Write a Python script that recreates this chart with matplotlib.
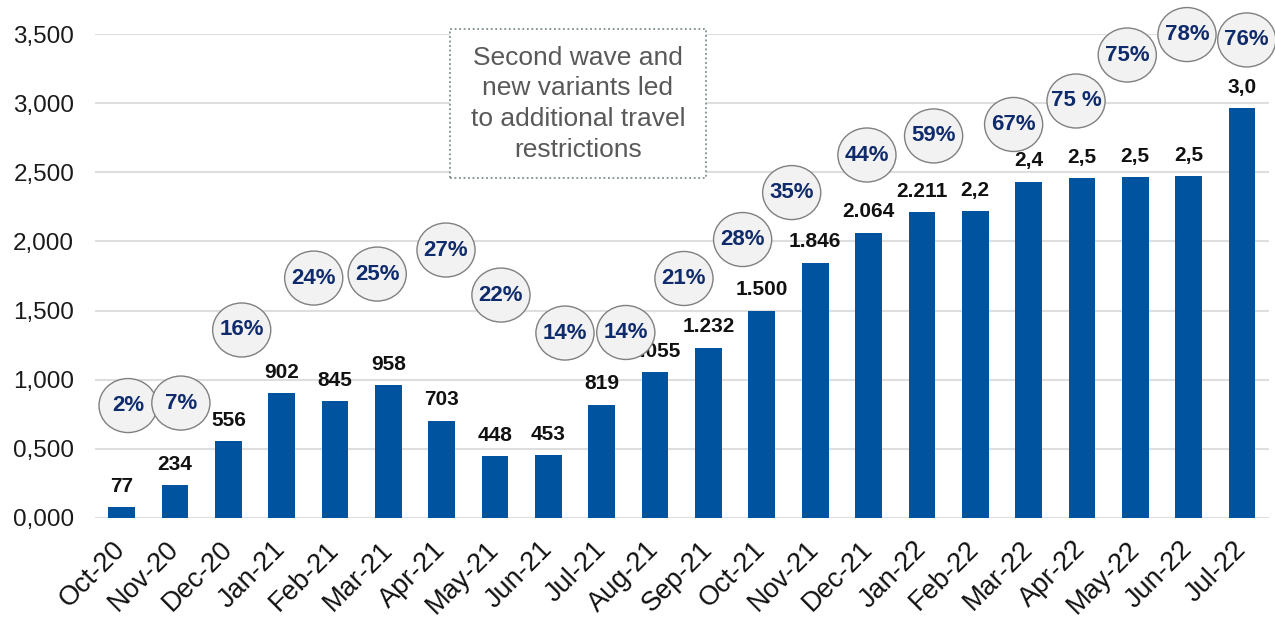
import matplotlib
matplotlib.use("Agg")
import matplotlib.pyplot as plt
from matplotlib.patches import Ellipse, Rectangle

plt.rcParams['font.family'] = ['Liberation Sans', 'DejaVu Sans']

# ---- data ----
months = ["Oct-20", "Nov-20", "Dec-20", "Jan-21", "Feb-21", "Mar-21", "Apr-21",
          "May-21", "Jun-21", "Jul-21", "Aug-21", "Sep-21", "Oct-21", "Nov-21",
          "Dec-21", "Jan-22", "Feb-22", "Mar-22", "Apr-22", "May-22", "Jun-22", "Jul-22"]
values = [77, 234, 556, 902, 845, 958, 703, 448, 453, 819, 1055, 1232, 1500, 1846,
          2064, 2211, 2218, 2433, 2460, 2465, 2474, 2964]
value_labels = ["77", "234", "556", "902", "845", "958", "703", "448", "453", "819",
                "1.055", "1.232", "1.500", "1.846", "2.064", "2.211", "2,2", "2,4",
                "2,5", "2,5", "2,5", "3,0"]
pct_labels = ["2%", "7%", "16%", "24%", "25%", "27%", "22%", "14%", "14%", "21%",
              "28%", "35%", "44%", "59%", "67%", "75 %", "75%", "78%", "76%"]
# annotation placement (x in category units, y in data units)
pct_x = [0.12, 1.11, 2.25, 3.6, 4.79, 6.08, 7.11, 8.31, 9.45, 10.54,
         11.64, 12.56, 13.97, 15.22, 16.72, 17.89, 18.85, 19.97, 21.09]
pct_y = [812, 830, 1359, 1735, 1764, 1938, 1612, 1337, 1341, 1732,
         2014, 2354, 2626, 2764, 2847, 3017, 3350, 3498, 3459]
yticks = [0, 500, 1000, 1500, 2000, 2500, 3000, 3500]
note_text = "Second wave and\nnew variants led\nto additional travel\nrestrictions"

BAR = "#00539f"
NAVY = "#0f2b6b"

fig = plt.figure(figsize=(12.75, 6.2), dpi=100)
ax = fig.add_axes([0.0745, 0.165, 0.9205, 0.7797])

x = list(range(len(months)))
ax.bar(x, values, width=0.5, color=BAR, zorder=2)

ax.set_xlim(-0.5, len(months) - 0.5)
ax.set_ylim(0, 3500)
ax.set_yticks(yticks)
ax.set_yticklabels([f"{v/1000:.3f}".replace(".", ",") for v in yticks],
                   fontsize=17.5, color="#1a1a1a")
ax.set_xticks(x)
ax.set_xticklabels(months, rotation=45, ha="right", va="center",
                   rotation_mode="anchor", fontsize=19.5, color="#111111")
ax.tick_params(axis="both", length=0)
ax.tick_params(axis="x", pad=20)
ax.tick_params(axis="y", pad=15)
for s in ax.spines.values():
    s.set_visible(False)
ax.grid(axis="y", color="#dedede", lw=1.5, zorder=0)
ax.set_axisbelow(True)

# value labels
for xi, v, lab in zip(x, values, value_labels):
    ax.annotate(lab, (xi, v), xytext=(0, 11), textcoords="offset points",
                ha="center", va="baseline", fontsize=15, fontweight="bold",
                color="#111111", zorder=3)

# percentage circles
w_data = 1.09
h_data = 391
for px, py, lab in zip(pct_x, pct_y, pct_labels):
    e = Ellipse((px, py), w_data, h_data, facecolor="#f2f2f2", edgecolor="#808080",
                lw=1.0, zorder=4, clip_on=False)
    ax.add_patch(e)
    ax.text(px, py, lab, ha="center", va="center", fontsize=16, fontweight="bold",
            color=NAVY, zorder=5, clip_on=False)

# note box
bx0, bx1, by0, by1 = 6.15, 10.95, 2459, 3538
ax.add_patch(Rectangle((bx0, by0), bx1 - bx0, by1 - by0, facecolor="white",
                       edgecolor="#7f8f8f", lw=1.3, linestyle=(0, (1, 1.5)),
                       zorder=3, clip_on=False))
ax.text((bx0 + bx1) / 2, (by0 + by1) / 2, note_text, ha="center", va="center",
        fontsize=19, color="#595959", linespacing=1.35, zorder=4)

fig.savefig("out.png", dpi=100)
